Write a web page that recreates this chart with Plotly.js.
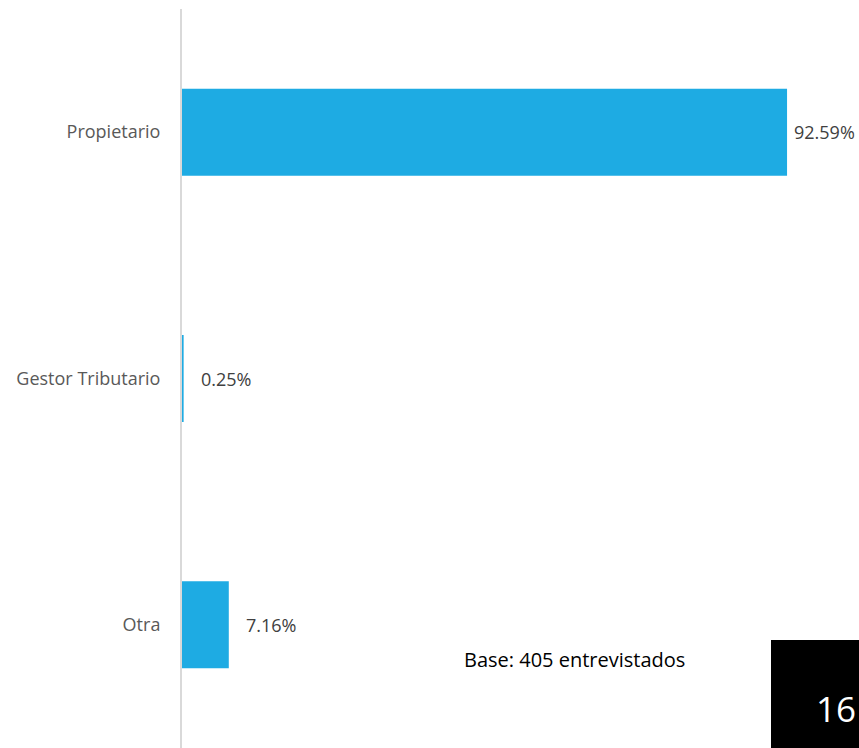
<!DOCTYPE html>
<html>
<head>
<meta charset="utf-8">
<script src="https://cdn.plot.ly/plotly-3.0.1.min.js"></script>
<style>html,body{margin:0;padding:0;background:#fff;}#chart{width:859px;height:748px;}</style>
</head>
<body>
<div id="chart"></div>
<script>
const categories = ['Propietario', 'Gestor Tributario', 'Otra'];
const values = [92.59, 0.25, 7.16];
const valueLabels = ['92.59%', '0.25%', '7.16%'];
const baseNote = 'Base: 405 entrevistados';
const pageNumber = '16';

const trace = {
  type: 'bar',
  orientation: 'h',
  y: categories,
  x: values,
  marker: {color: '#1EABE3'},
  width: 0.353,
  hoverinfo: 'none'
};

const labelAnnotations = categories.map((c, i) => ({
  x: values[i], y: c, xref: 'x', yref: 'y',
  text: valueLabels[i], showarrow: false,
  xanchor: 'left', yanchor: 'middle',
  xshift: values[i] > 90 ? 5 : 15,
  font: {family: 'Open Sans, sans-serif', size: 18, color: '#404040'}
}));

const layout = {
  width: 859, height: 748,
  margin: {l: 182, r: 0, t: 9, b: 0},
  paper_bgcolor: '#ffffff', plot_bgcolor: 'rgba(0,0,0,0)',
  showlegend: false,
  xaxis: {range: [0, 103.6], visible: false, fixedrange: true},
  yaxis: {
    autorange: false, range: [2.5, -0.5],
    type: 'category',
    showline: true, linecolor: '#D9D9D9', linewidth: 2,
    showgrid: false, zeroline: false,
    ticks: '', ticklabelstandoff: 16,
    tickfont: {family: 'Open Sans, sans-serif', size: 18, color: '#595959'}
  },
  shapes: [{
    type: 'rect', xref: 'paper', yref: 'paper',
    x0: (771 - 182) / 677, x1: 1, y0: 0, y1: (748 - 640) / 739,
    fillcolor: '#000000', line: {width: 0}, layer: 'above'
  }],
  annotations: labelAnnotations.concat([
    {text: baseNote, xref: 'paper', yref: 'paper', x: (462 - 182) / 677, y: (748 - 659) / 739,
     xanchor: 'left', yanchor: 'middle', showarrow: false,
     font: {family: 'Open Sans, sans-serif', size: 20, color: '#000000'}},
    {text: pageNumber, xref: 'paper', yref: 'paper', x: (836 - 182) / 677, y: (748 - 708) / 739,
     xanchor: 'center', yanchor: 'middle', showarrow: false,
     font: {family: 'Open Sans, sans-serif', size: 35, color: '#ffffff'}}
  ])
};

Plotly.newPlot('chart', [trace], layout, {staticPlot: true, displayModeBar: false});
</script>
</body>
</html>
